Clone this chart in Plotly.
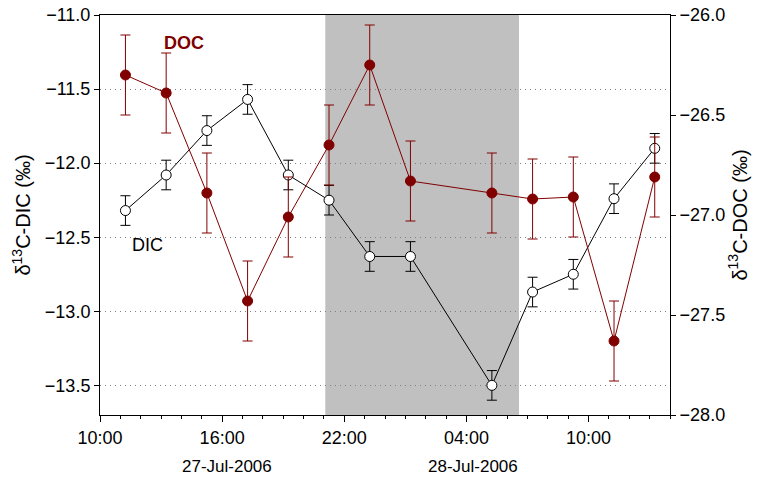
import plotly.graph_objects as go

# ---- data ----
sample_times = [
    "2006-07-27 11:15", "2006-07-27 13:15", "2006-07-27 15:15", "2006-07-27 17:15",
    "2006-07-27 19:15", "2006-07-27 21:15", "2006-07-27 23:15", "2006-07-28 01:15",
    "2006-07-28 05:15", "2006-07-28 07:15", "2006-07-28 09:15", "2006-07-28 11:15",
    "2006-07-28 13:15",
]
dic_values = [-12.32, -12.08, -11.78, -11.57, -12.08, -12.25, -12.63, -12.63,
              -13.50, -12.87, -12.75, -12.24, -11.90]
dic_errors = [0.10] * 13
doc_values = [-26.30, -26.39, -26.89, -27.43, -27.01, -26.65, -26.25, -26.83,
              -26.89, -26.92, -26.91, -27.63, -26.81]
doc_errors = [0.20] * 13

night_start = "2006-07-27 21:04"
night_end = "2006-07-28 06:35"

x_tick_vals = ["2006-07-27 10:00", "2006-07-27 16:00", "2006-07-27 22:00",
               "2006-07-28 04:00", "2006-07-28 10:00"]
x_tick_text = ["10:00", "16:00", "22:00", "04:00", "10:00"]
date_labels = ["27-Jul-2006", "28-Jul-2006"]

DOC_COLOR = "#800000"
FONT = "Liberation Sans, Arial, sans-serif"

fig = go.Figure()

fig.add_trace(go.Scatter(
    x=sample_times, y=doc_values, yaxis="y2", mode="lines+markers", name="DOC",
    line=dict(color=DOC_COLOR, width=1),
    marker=dict(color=DOC_COLOR, size=10, line=dict(color=DOC_COLOR, width=1)),
    error_y=dict(type="data", array=doc_errors, color=DOC_COLOR, thickness=1, width=5),
))
fig.add_trace(go.Scatter(
    x=sample_times, y=dic_values, yaxis="y", mode="lines+markers", name="DIC",
    line=dict(color="black", width=1),
    marker=dict(color="white", size=10, line=dict(color="black", width=1)),
    error_y=dict(type="data", array=dic_errors, color="black", thickness=1, width=5),
))

fig.add_shape(type="rect", xref="x", yref="paper", x0=night_start, x1=night_end,
              y0=0, y1=1, fillcolor="#c0c0c0", line=dict(width=0), layer="below")

fig.add_annotation(text="<b>DOC</b>", xref="paper", yref="paper", x=0.108, y=0.93,
                   yanchor="middle", showarrow=False,
                   font=dict(color=DOC_COLOR, size=18, family=FONT))
fig.add_annotation(text="DIC", xref="paper", yref="paper", x=0.0535, y=0.425,
                   yanchor="middle", showarrow=False,
                   font=dict(color="black", size=18, family=FONT))
fig.add_annotation(text=date_labels[0], xref="paper", yref="paper", x=0.141, y=-0.1275,
                   showarrow=False, yanchor="middle", font=dict(color="black", size=17, family=FONT))
fig.add_annotation(text=date_labels[1], xref="paper", yref="paper", x=0.7376, y=-0.1275,
                   showarrow=False, yanchor="middle", font=dict(color="black", size=17, family=FONT))

fig.update_layout(
    width=755, height=471,
    margin=dict(l=92, r=93, t=7, b=64, autoexpand=False),
    paper_bgcolor="white", plot_bgcolor="white",
    showlegend=False,
    font=dict(family=FONT, size=18, color="black"),
    xaxis=dict(
        type="date", range=["2006-07-27 10:00", "2006-07-28 14:00"],
        tickvals=x_tick_vals, ticktext=x_tick_text, automargin=False,
        showline=True, linecolor="black", linewidth=1, mirror=True,
        ticks="outside", ticklen=6, tickcolor="black",
        minor=dict(dtick=3600000, ticks="outside", ticklen=3, tickcolor="black"),
        showgrid=False, zeroline=False,
    ),
    yaxis=dict(
        range=[-13.7, -11.0], dtick=0.5, tick0=-11.0, tickformat=".1f", automargin=False,
        ticklabeloverflow="allow",
        showline=True, linecolor="black", linewidth=1,
        ticks="outside", ticklen=5, tickcolor="black",
        showgrid=True, gridcolor="#808080", gridwidth=1, griddash="1px,4px",
        zeroline=False,
        title=dict(text="δ<sup>13</sup>C-DIC (‰)", font=dict(size=20), standoff=8),
    ),
    yaxis2=dict(
        range=[-28.0, -26.0], dtick=0.5, tick0=-26.0, tickformat=".1f", automargin=False,
        ticklabeloverflow="allow",
        overlaying="y", side="right",
        showline=True, linecolor="black", linewidth=1,
        ticks="outside", ticklen=5, tickcolor="black",
        showgrid=False, zeroline=False,
        title=dict(text="δ<sup>13</sup>C-DOC (‰)", font=dict(size=20), standoff=8),
    ),
)

fig.write_html("out.html")
